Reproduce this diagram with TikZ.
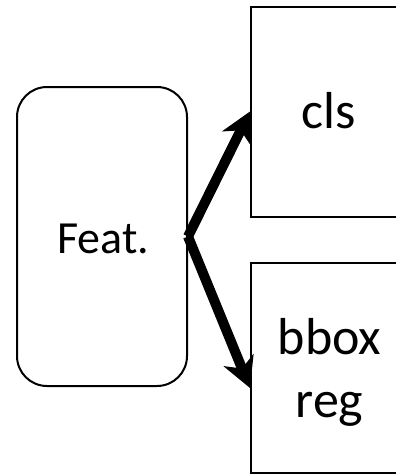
\documentclass[tikz,border=0pt]{standalone}
\usepackage{fontspec}
\setmainfont{Carlito}
\usetikzlibrary{arrows.meta,calc}
\begin{document}
\begin{tikzpicture}[x=1pt,y=-1pt,
  featbox/.style={draw, line width=2pt, rounded corners=30pt, minimum width=170pt, minimum height=299pt, inner sep=0pt},
  headbox/.style={draw, fill=white, line width=2pt, minimum width=154pt, minimum height=210pt, inner sep=0pt},
  feattext/.style={anchor=base, inner sep=0pt, font=\fontsize{46}{55}\selectfont},
  headtext/.style={anchor=base, inner sep=0pt, font=\fontsize{52}{63}\selectfont},
  bigarrow/.style={line width=10pt, -{Stealth[length=30pt,width=32pt,inset=9pt]}}]
\useasboundingbox (0,0) rectangle (396,474);
\node[featbox] (feat) at (102,236.5) {};
\node[headbox] (cls) at (328,111.5) {};
\node[headbox] (reg) at (328,367.5) {};
\node[feattext] (feattxt) at (103,253) {Feat.};
\node[headtext] (clstxt) at (329,128) {cls};
\node[headtext] (bboxtxt) at (329.5,354) {bbox};
\node[headtext] (regtxt) at (329.5,417) {reg};
\coordinate (regin) at ($(reg.west)+(0,20.5)$);
\draw[bigarrow] (feat.east) -- (cls.west);
\draw[bigarrow] (feat.east) -- (regin);
\end{tikzpicture}
\end{document}
